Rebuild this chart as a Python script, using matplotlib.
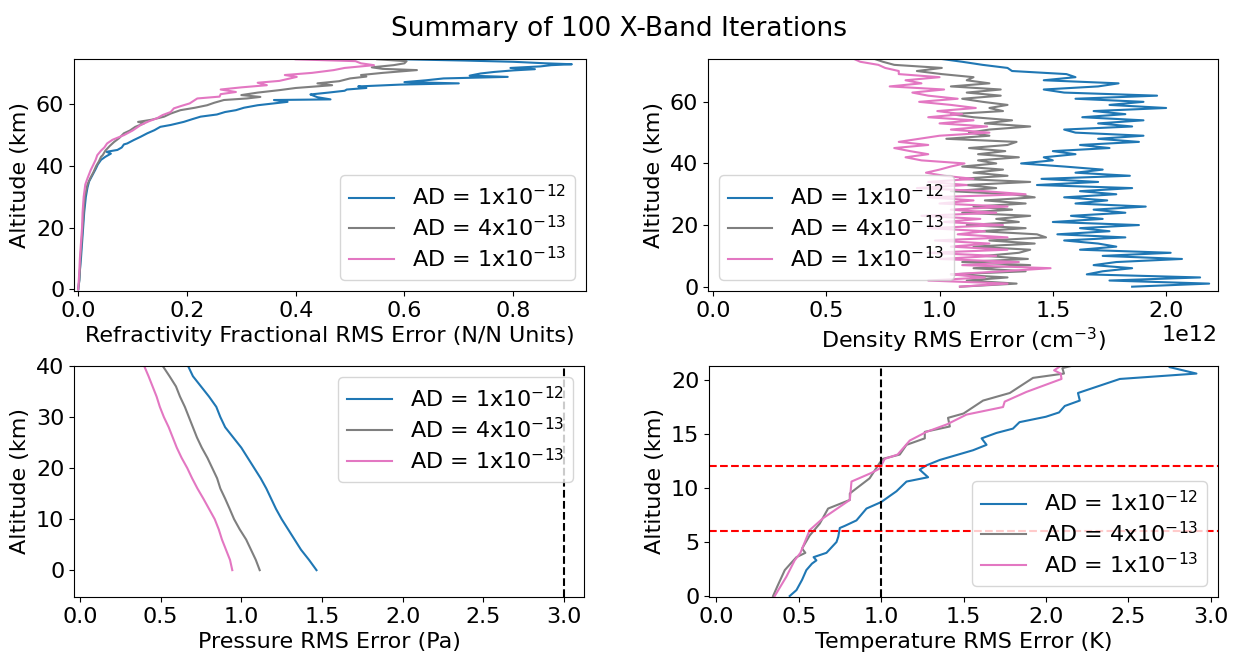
import numpy as np
import matplotlib
matplotlib.use("Agg")
import matplotlib.pyplot as plt

# ---------------- data ----------------
LABELS = [r"AD = 1x10$^{-12}$", r"AD = 4x10$^{-13}$", r"AD = 1x10$^{-13}$"]
COLORS = ["#1f77b4", "#7f7f7f", "#e377c2"]

# Refractivity fractional RMS error vs altitude (km)
REFR_ALT_1 = [0, 3, 6, 10, 15, 20, 25, 30, 33, 35, 37, 39, 40.5, 42, 43, 44, 44.6, 45.2, 46, 47,
              47.3, 48.4, 49.5, 50.6, 51.6, 52.7, 53.3, 54.3, 55.2, 56, 56.7, 57.5, 58.1, 58.9, 59.7,
              60.3, 60.8, 61.4, 61.6, 62.3, 63, 63.2, 63.8, 64.4, 64.8, 65.3, 65.8, 66.4, 66.8, 67.2,
              67.8, 68.4, 68.9, 69.3, 70, 70.5, 71, 71.4, 71.8, 72.3, 72.7, 73, 73.3, 73.8, 74.2, 74.6]
REFR_VAL_1 = [0.0, 0.002, 0.003, 0.005, 0.007, 0.009, 0.011, 0.014, 0.017, 0.02, 0.026, 0.032, 0.036,
              0.042, 0.05, 0.06, 0.052, 0.072, 0.08, 0.084, 0.09, 0.102, 0.115, 0.127, 0.14, 0.151, 0.17,
              0.194, 0.21, 0.225, 0.255, 0.27, 0.29, 0.305, 0.33, 0.36, 0.385, 0.36, 0.464, 0.44, 0.43,
              0.427, 0.46, 0.49, 0.494, 0.53, 0.515, 0.593, 0.70, 0.60, 0.64, 0.672, 0.79, 0.72, 0.74,
              0.765, 0.80, 0.84, 0.795, 0.85, 0.87, 0.908, 0.86, 0.80, 0.71, 0.60]
REFR_ALT_2 = [0, 3, 6, 10, 15, 20, 25, 30, 34, 36, 38, 40, 41.5, 43, 43.5, 45, 46.5, 47.8, 49, 50.6,
              51.5, 52.7, 53.8, 54.3, 55, 56, 57, 58.1, 58.9, 59.7, 60.5, 61.4, 61.9, 62.4, 63, 63.8,
              64.6, 65.3, 66.2, 66.8, 67.5, 68.4, 69, 69.5, 70.2, 71.1, 71.5, 72, 72.7, 73.3, 74, 74.6]
REFR_VAL_2 = [0.0, 0.002, 0.003, 0.004, 0.006, 0.008, 0.01, 0.012, 0.017, 0.022, 0.028, 0.033, 0.038,
              0.042, 0.045, 0.05, 0.058, 0.066, 0.075, 0.084, 0.095, 0.105, 0.121, 0.11, 0.135, 0.158,
              0.17, 0.188, 0.215, 0.237, 0.25, 0.268, 0.31, 0.335, 0.3, 0.33, 0.37, 0.40, 0.467, 0.44,
              0.48, 0.50, 0.53, 0.52, 0.56, 0.623, 0.56, 0.54, 0.58, 0.6, 0.604, 0.55]
REFR_ALT_3 = [0, 3, 6, 10, 15, 20, 25, 30, 34, 36, 38.7, 40.5, 42, 43.5, 45, 46, 47.3, 48.5, 50, 51.5,
              53.3, 54.5, 55.5, 56.5, 57.5, 58.7, 59.5, 60.3, 61.9, 62.5, 63.3, 64, 64.8, 65.5, 66.2,
              67, 67.6, 68.9, 69.5, 70.2, 71.1, 71.8, 72.7, 73.3, 74, 74.6]
REFR_VAL_3 = [0.0, 0.001, 0.002, 0.003, 0.005, 0.007, 0.008, 0.01, 0.013, 0.017, 0.023, 0.028, 0.032,
              0.035, 0.042, 0.048, 0.053, 0.063, 0.084, 0.1, 0.115, 0.13, 0.145, 0.155, 0.17, 0.176,
              0.19, 0.205, 0.219, 0.26, 0.262, 0.29, 0.262, 0.30, 0.347, 0.33, 0.37, 0.402, 0.38, 0.43,
              0.47, 0.49, 0.544, 0.52, 0.51, 0.40]

# Density RMS error (units of 1e12 cm^-3), altitude 0..74 km
DENS_ALT = np.arange(0, 75, 1.0)
DENS_1 = [1.85, 2.19, 1.75, 2.15, 1.65, 1.72, 1.85, 1.68, 1.78, 2.07, 1.72, 2.02, 1.62, 1.78, 1.70,
          1.55, 1.82, 1.52, 1.75, 1.62, 1.88, 1.50, 1.72, 1.58, 1.82, 1.68, 1.91, 1.60, 1.74, 1.55,
          1.78, 1.62, 1.85, 1.43, 1.70, 1.45, 1.84, 1.60, 1.72, 1.55, 1.36, 1.50, 1.46, 1.60, 1.50,
          1.75, 1.62, 1.88, 1.70, 1.90, 1.60, 1.55, 1.85, 1.70, 1.90, 1.63, 1.82, 1.68, 2.00, 1.75,
          1.90, 1.60, 1.96, 1.55, 1.46, 1.70, 1.79, 1.46, 1.60, 1.56, 1.32, 1.30, 1.19, 1.10, 1.00]
DENS_2 = [1.09, 1.34, 1.12, 1.30, 1.05, 1.38, 1.15, 1.40, 1.10, 1.39, 1.20, 1.35, 1.40, 1.15, 1.42,
          1.22, 1.47, 1.43, 1.18, 1.38, 1.12, 1.35, 1.25, 1.40, 1.10, 1.32, 1.15, 1.38, 1.20, 1.42,
          1.32, 1.05, 1.25, 1.12, 1.40, 1.09, 1.30, 1.15, 1.28, 1.10, 1.25, 1.17, 1.35, 1.17, 1.29,
          1.13, 1.30, 1.34, 1.03, 1.22, 1.13, 1.22, 1.40, 1.20, 1.32, 1.15, 1.05, 1.28, 1.22, 1.30,
          1.19, 1.10, 1.27, 1.12, 1.27, 1.05, 1.22, 1.12, 1.15, 1.01, 0.90, 1.01, 0.80, 0.75, 0.71]
DENS_3 = [1.09, 1.30, 0.95, 1.20, 1.05, 1.28, 1.49, 1.10, 1.35, 1.00, 1.25, 0.95, 1.30, 1.05, 1.22,
          0.98, 1.30, 1.08, 1.20, 0.95, 1.28, 1.02, 1.18, 0.92, 1.25, 1.05, 1.30, 1.00, 1.15, 0.95,
          1.38, 1.20, 0.90, 1.12, 0.95, 1.15, 1.02, 0.94, 1.00, 1.05, 1.11, 0.92, 0.85, 0.95, 0.87,
          0.80, 0.95, 0.82, 0.91, 1.00, 1.22, 1.05, 1.21, 1.00, 1.15, 0.95, 1.10, 0.99, 1.16, 1.05,
          0.91, 1.08, 0.95, 0.88, 1.02, 0.78, 0.92, 0.85, 1.00, 0.82, 0.82, 0.76, 0.73, 0.65, 0.62]

# Pressure RMS error (Pa), altitude 0..40 km
PRES_ALT = [0, 2, 4, 6, 8, 10, 12, 14, 16, 18, 20, 22, 24, 26, 28, 30, 32, 34, 36, 38, 40]
PRES_1 = [1.466, 1.42, 1.37, 1.33, 1.29, 1.25, 1.215, 1.185, 1.155, 1.12, 1.08, 1.04, 1.0, 0.95,
          0.90, 0.87, 0.845, 0.80, 0.75, 0.70, 0.67]
PRES_2 = [1.114, 1.09, 1.06, 1.03, 0.99, 0.955, 0.928, 0.90, 0.87, 0.85, 0.82, 0.79, 0.755, 0.725,
          0.70, 0.675, 0.65, 0.62, 0.595, 0.555, 0.513]
PRES_3 = [0.944, 0.93, 0.905, 0.88, 0.86, 0.835, 0.80, 0.765, 0.728, 0.695, 0.665, 0.63, 0.60,
          0.575, 0.55, 0.52, 0.495, 0.475, 0.45, 0.425, 0.398]

# Temperature RMS error (K)
TEMP_ALT_1 = [0, 0.55, 1.5, 2.4, 3.0, 3.3, 3.6, 4.0, 5.0, 5.5, 6.3, 6.5, 7.0, 8.1, 8.7, 9.7, 10.6,
              11.0, 11.7, 12.1, 12.6, 13.5, 14.0, 14.6, 15.1, 15.5, 16.1, 16.6, 17.0, 17.6, 18.1,
              18.8, 20.1, 20.6, 21.2, 21.4]
TEMP_1 = [0.445, 0.486, 0.52, 0.546, 0.58, 0.607, 0.59, 0.668, 0.729, 0.74, 0.749, 0.78, 0.85, 0.911,
          1.0, 1.093, 1.154, 1.285, 1.234, 1.275, 1.356, 1.558, 1.64, 1.61, 1.7, 1.8, 1.84, 2.0, 2.08,
          2.115, 2.206, 2.195, 2.449, 2.914, 2.75, 2.76]
TEMP_ALT_2 = [0, 0.9, 2.4, 3.0, 3.6, 4.0, 4.4, 5.6, 6.7, 8.1, 8.9, 9.5, 10.9, 12.3, 12.7, 13.1, 14.0,
              14.6, 15.2, 15.7, 16.5, 16.9, 18.1, 18.8, 20.2, 20.6, 21.1, 21.4]
TEMP_2 = [0.344, 0.37, 0.415, 0.45, 0.486, 0.54, 0.52, 0.566, 0.627, 0.678, 0.81, 0.81, 0.93, 0.99,
          1.01, 1.113, 1.154, 1.265, 1.265, 1.417, 1.406, 1.5, 1.619, 1.781, 1.922, 2.11, 2.1, 2.18]
TEMP_ALT_3 = [0, 1.8, 3.3, 4.0, 6.1, 7.2, 8.9, 10.6, 11.4, 11.8, 12.7, 13.1, 14.4, 15.2, 15.9, 16.8,
              17.5, 18.0, 18.9, 20.1, 20.6, 20.9, 21.4]
TEMP_3 = [0.354, 0.425, 0.475, 0.51, 0.566, 0.647, 0.81, 0.82, 0.941, 0.99, 1.022, 1.1, 1.174, 1.275,
          1.4, 1.518, 1.74, 1.75, 1.882, 2.095, 2.09, 2.05, 2.1]

TEMP_HLINES = [12, 6]
TEMP_VLINE = 1.0
PRES_VLINE = 3.0

# ---------------- figure ----------------
FS = 16
plt.rcParams.update({"font.size": FS, "axes.labelsize": FS, "xtick.labelsize": FS,
                     "ytick.labelsize": FS, "legend.fontsize": FS,
                     "legend.labelspacing": 0.25})

fig = plt.figure(figsize=(12.38, 6.59), dpi=100)
W, H = 1238.0, 659.0

def box(l, t, r, b):
    return [l / W, 1 - b / H, (r - l) / W, (b - t) / H]

ax1 = fig.add_axes(box(74, 59, 586, 291))
ax2 = fig.add_axes(box(708, 59, 1218, 291))
ax3 = fig.add_axes(box(74, 366, 584, 597))
ax4 = fig.add_axes(box(709, 366, 1218, 597))

# Refractivity
for a, v, c, lab in zip([REFR_ALT_1, REFR_ALT_2, REFR_ALT_3], [REFR_VAL_1, REFR_VAL_2, REFR_VAL_3],
                        COLORS, LABELS):
    ax1.plot(v, a, color=c, label=lab, lw=1.5)
ax1.set_xlim(-0.0078, 0.934)
ax1.set_ylim(-0.55, 74.7)
ax1.set_xlabel("Refractivity Fractional RMS Error (N/N Units)")
ax1.set_ylabel("Altitude (km)")
ax1.legend(loc="lower right")

# Density
for v, c, lab in zip([DENS_1, DENS_2, DENS_3], COLORS, LABELS):
    ax2.plot(np.array(v) * 1e12, DENS_ALT, color=c, label=lab, lw=1.5)
ax2.set_xlim(-0.022e12, 2.229e12)
ax2.set_ylim(-1.4, 73.9)
ax2.set_xticks([0, 0.5e12, 1.0e12, 1.5e12, 2.0e12])
ax2.set_xlabel(r"Density RMS Error (cm$^{-3}$)")
ax2.set_ylabel("Altitude (km)")
ax2.legend(loc="lower left")

# Pressure
for v, c, lab in zip([PRES_1, PRES_2, PRES_3], COLORS, LABELS):
    ax3.plot(v, PRES_ALT, color=c, label=lab, lw=1.5)
ax3.axvline(PRES_VLINE, color="k", ls="--", lw=1.5)
ax3.set_xlim(-0.037, 3.124)
ax3.set_ylim(-5.26, 40)
ax3.set_xlabel("Pressure RMS Error (Pa)")
ax3.set_ylabel("Altitude (km)")
ax3.legend(loc="upper right")

# Temperature
for a, v, c, lab in zip([TEMP_ALT_1, TEMP_ALT_2, TEMP_ALT_3], [TEMP_1, TEMP_2, TEMP_3], COLORS, LABELS):
    ax4.plot(v, a, color=c, label=lab, lw=1.5)
for h in TEMP_HLINES:
    ax4.axhline(h, color="r", ls="--", lw=1.5)
ax4.axvline(TEMP_VLINE, color="k", ls="--", lw=1.5)
ax4.set_xlim(-0.045, 3.045)
ax4.set_ylim(-0.09, 21.3)
ax4.set_xlabel("Temperature RMS Error (K)")
ax4.set_ylabel("Altitude (km)")
ax4.legend(loc="lower right")

fig.suptitle("Summary of 100 X-Band Iterations", fontsize=19, y=0.975)

fig.savefig("out.png", dpi=100)
